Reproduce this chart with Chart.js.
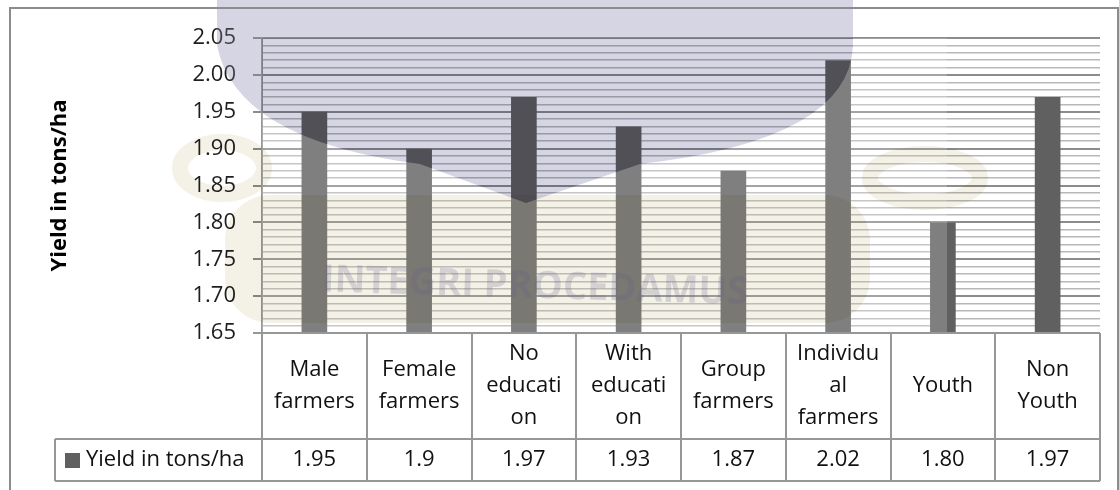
<!DOCTYPE html>
<html>
<head>
<meta charset="utf-8">
<script src="https://cdn.jsdelivr.net/npm/chart.js"></script>
<style>
  html, body { margin: 0; padding: 0; background: #fff; }
  #wrap { width: 1119px; height: 490px; }
</style>
</head>
<body>
<div id="wrap"><canvas id="chart" width="1119" height="490"></canvas></div>
<script>
// data
const categories = [
    ['Male', 'farmers'],
    ['Female', 'farmers'],
    ['No', 'educati', 'on'],
    ['With', 'educati', 'on'],
    ['Group', 'farmers'],
    ['Individu', 'al', 'farmers'],
    ['Youth'],
    ['Non', 'Youth']
];
const yields = [1.95, 1.90, 1.97, 1.93, 1.87, 2.02, 1.80, 1.97];
const yieldText = ['1.95', '1.9', '1.97', '1.93', '1.87', '2.02', '1.80', '1.97'];
const seriesName = 'Yield in tons/ha';
const yMin = 1.65;
const yMax = 2.05;
const yStep = 0.01;

const FONT = '"Open Sans", "Liberation Sans", sans-serif';
const BAR = '#606060';
const LINE = '#979797';

const isMajor = (v) => Math.round(v * 100) % 5 === 0;

// faint university watermark sitting on top of the plot
const watermark = {
    id: 'watermark',
    afterDatasetsDraw(chart) {
        const ctx = chart.ctx;
        const a = chart.chartArea;
        const lavender = () => {
            ctx.moveTo(217, 0);
            ctx.lineTo(217, 45);
            ctx.quadraticCurveTo(235, 140, 420, 164);
            ctx.lineTo(526, 203);
            ctx.lineTo(640, 164);
            ctx.quadraticCurveTo(850, 140, 853, 45);
            ctx.lineTo(853, 0);
            ctx.closePath();
        };
        ctx.save();
        // white haze on the left part, not inside the lavender shield
        ctx.beginPath();
        ctx.rect(a.left, a.top, 947 - a.left, a.bottom - a.top);
        lavender();
        ctx.fillStyle = 'rgba(255,255,255,0.2)';
        ctx.fill('evenodd');

        ctx.globalCompositeOperation = 'multiply';
        ctx.beginPath();
        lavender();
        ctx.fillStyle = 'rgb(213,213,227)';
        ctx.fill();

        // beige banner and scroll curls
        ctx.beginPath();
        ctx.roundRect(225, 195, 645, 128, 45);
        ctx.fillStyle = 'rgb(244,241,231)';
        ctx.fill();
        ctx.strokeStyle = 'rgb(244,241,231)';
        ctx.lineWidth = 16;
        ctx.beginPath();
        ctx.ellipse(222, 168, 42, 26, 0, 0, Math.PI * 2);
        ctx.stroke();
        ctx.beginPath();
        ctx.ellipse(925, 178, 55, 24, 0, 0, Math.PI * 2);
        ctx.stroke();
        ctx.globalCompositeOperation = 'source-over';

        ctx.translate(535, 287);
        ctx.rotate(0.03);
        ctx.font = 'bold 38px ' + FONT;
        ctx.textAlign = 'center';
        ctx.textBaseline = 'middle';
        ctx.fillStyle = 'rgba(95,95,135,0.22)';
        ctx.fillText('INTEGRI PROCEDAMUS', 0, 0);
        ctx.restore();
    }
};

// data table under the plot + outer frame
const dataTable = {
    id: 'dataTable',
    afterDraw(chart) {
        const ctx = chart.ctx;
        const x = chart.scales.x;
        const a = chart.chartArea;
        const n = chart.data.labels.length;
        const w = (a.right - a.left) / n;
        const top = a.bottom;
        const mid = top + 106;
        const bot = mid + 42;
        const legLeft = 55;

        ctx.save();
        ctx.strokeStyle = LINE;
        ctx.lineWidth = 2;
        ctx.beginPath();
        ctx.moveTo(a.left - 9, top); ctx.lineTo(a.right, top);
        ctx.moveTo(legLeft, mid); ctx.lineTo(a.right, mid);
        ctx.moveTo(legLeft, bot); ctx.lineTo(a.right, bot);
        ctx.moveTo(legLeft, mid); ctx.lineTo(legLeft, bot);
        for (let i = 0; i <= n; i++) {
            const px = Math.round(a.left + i * w);
            ctx.moveTo(px, top); ctx.lineTo(px, bot);
        }
        ctx.stroke();

        ctx.fillStyle = '#111';
        ctx.font = '22px ' + FONT;
        ctx.textAlign = 'center';
        ctx.textBaseline = 'middle';
        chart.data.labels.forEach((lines, i) => {
            const cx = x.getPixelForValue(i);
            const cy = top + 53;
            lines.forEach((t, k) => {
                ctx.fillText(t, cx, cy + (k - (lines.length - 1) / 2) * 32);
            });
            ctx.fillText(yieldText[i], cx, mid + 21);
        });

        ctx.fillStyle = BAR;
        ctx.fillRect(65, mid + 14, 15, 15);
        ctx.fillStyle = '#111';
        ctx.textAlign = 'left';
        ctx.fillText(seriesName, 86, mid + 21);

        ctx.strokeStyle = '#8c8c8c';
        ctx.strokeRect(10, 8, 1108, 520);
        ctx.restore();
    }
};

new Chart(document.getElementById('chart'), {
    type: 'bar',
    data: {
        labels: categories,
        datasets: [{
            label: seriesName,
            data: yields,
            backgroundColor: BAR,
            borderWidth: 0,
            barPercentage: 0.245,
            categoryPercentage: 1
        }]
    },
    options: {
        responsive: false,
        animation: false,
        devicePixelRatio: 1,
        layout: { padding: { top: 38, right: 19, bottom: 0, left: 0 } },
        plugins: {
            legend: { display: false },
            tooltip: { enabled: false }
        },
        scales: {
            x: {
                ticks: { display: false },
                grid: { display: false, drawTicks: false },
                border: { display: false },
                afterFit: (s) => { s.height = 157; }
            },
            y: {
                min: yMin,
                max: yMax,
                afterFit: (s) => { s.width = 262; },
                ticks: {
                    stepSize: yStep,
                    autoSkip: false,
                    padding: 17,
                    color: '#1e1e1e',
                    font: { family: FONT, size: 22 },
                    callback: (v) => isMajor(v) ? v.toFixed(2) : ''
                },
                grid: {
                    tickLength: 9,
                    color: (c) => isMajor(c.tick.value) ? '#8c8c8c' : '#b8b8b8',
                    lineWidth: (c) => isMajor(c.tick.value) ? 2 : 1.5,
                    tickColor: (c) => isMajor(c.tick.value) ? '#8c8c8c' : 'rgba(0,0,0,0)',
                    tickWidth: 2
                },
                border: { color: LINE, width: 2 },
                title: {
                    display: true,
                    text: seriesName,
                    color: '#000',
                    font: { family: FONT, size: 22, weight: 'bold' },
                    padding: { top: 47, bottom: 0 }
                }
            }
        }
    },
    plugins: [watermark, dataTable]
});
</script>
</body>
</html>
